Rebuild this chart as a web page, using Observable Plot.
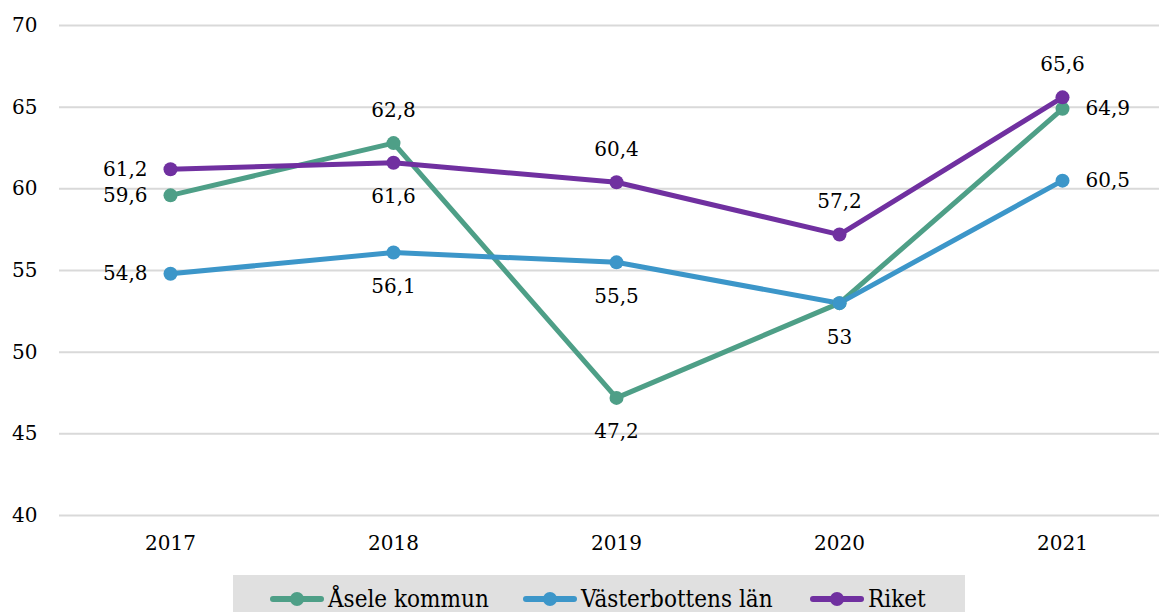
<!DOCTYPE html>
<html>
<head>
<meta charset="utf-8">
<script src="https://cdn.jsdelivr.net/npm/d3@7"></script>
<script src="https://cdn.jsdelivr.net/npm/@observablehq/plot@0.6"></script>
<style>
  html, body { margin: 0; padding: 0; background: #fff; }
  #chart { width: 1159px; position: relative; }
  .legend { position: relative; margin-left: 233px; margin-top: 10px; width: 732px; height: 42px; background: #e0e0e0;
    font-family: "DejaVu Serif Condensed", "DejaVu Serif", serif; font-stretch: condensed; font-size: 24px; color: #000; }
  .item { position: absolute; top: 5px; height: 38px; display: flex; align-items: center; }
  .sw { position: relative; width: 54px; height: 38px; margin-right: 4px; }
  .sw .ln { position: absolute; left: 0; right: 0; top: 16px; height: 6px; border-radius: 3px; }
  .sw .dt { position: absolute; left: 20px; top: 12px; width: 14px; height: 14px; border-radius: 7px; }
</style>
</head>
<body>
<div id="chart"></div>
<script>
const years = ["2017", "2018", "2019", "2020", "2021"];
const seriesNames = ["Åsele kommun", "Västerbottens län", "Riket"];
const asele = [59.6, 62.8, 47.2, 53, 64.9];
const vasterbotten = [54.8, 56.1, 55.5, 53, 60.5];
const riket = [61.2, 61.6, 60.4, 57.2, 65.6];
const yTicks = [40, 45, 50, 55, 60, 65, 70];
const colors = ["#4e9f87", "#3c96c9", "#7030a0"];
// where each data label sits relative to its point
const aseleLabel = ["left", "above", "below", null, "right"];
const vasterbottenLabel = ["left", "below", "below", "below", "right"];
const riketLabel = ["left", "below", "above", "above", "above"];

const allValues = [asele, vasterbotten, riket];
const allLabels = [aseleLabel, vasterbottenLabel, riketLabel];
const data = [];
seriesNames.forEach((s, si) => {
  years.forEach((y, i) => {
    data.push({series: s, year: y, value: allValues[si][i], pos: allLabels[si][i]});
  });
});
const fmt = v => String(v).replace(".", ",");
const font = "DejaVu Serif";

const labelMark = (pos, opts) => Plot.text(data.filter(d => d.pos === pos), {
  x: "year", y: "value", text: d => fmt(d.value), fill: "#000", fontSize: 20, ...opts
});

const chart = Plot.plot({
  width: 1159,
  height: 565,
  marginLeft: 59,
  marginRight: 0,
  marginTop: 25,
  marginBottom: 50,
  style: {fontFamily: font, fontSize: "20px", color: "#000", background: "#fff"},
  x: {type: "point", domain: years, range: [170, 1062], padding: 0, label: null},
  y: {domain: [40, 70], label: null},
  color: {domain: seriesNames, range: colors},
  marks: [
    Plot.ruleY(yTicks, {stroke: "#d9d9d9", strokeWidth: 2}),
    Plot.axisY({ticks: yTicks, tickSize: 0, tickPadding: 22, label: null, fontSize: 20}),
    Plot.axisX({tickSize: 0, tickPadding: 20, label: null, fontSize: 20}),
    Plot.line(data, {x: "year", y: "value", stroke: "series", z: "series", strokeWidth: 5, strokeLinejoin: "round", strokeLinecap: "round"}),
    Plot.dot(data, {x: "year", y: "value", fill: "series", r: 7, stroke: null}),
    labelMark("above", {dy: -33}),
    labelMark("below", {dy: 34}),
    labelMark("left", {dx: -23, textAnchor: "end"}),
    labelMark("right", {dx: 23, textAnchor: "start"})
  ]
});
document.getElementById("chart").appendChild(chart);

const legend = document.createElement("div");
legend.className = "legend";
const lefts = [37, 290, 577];
seriesNames.forEach((s, i) => {
  const item = document.createElement("div");
  item.className = "item";
  item.style.left = lefts[i] + "px";
  item.innerHTML = `<div class="sw"><div class="ln" style="background:${colors[i]}"></div><div class="dt" style="background:${colors[i]}"></div></div><span>${s}</span>`;
  legend.appendChild(item);
});
document.getElementById("chart").appendChild(legend);
</script>
</body>
</html>
